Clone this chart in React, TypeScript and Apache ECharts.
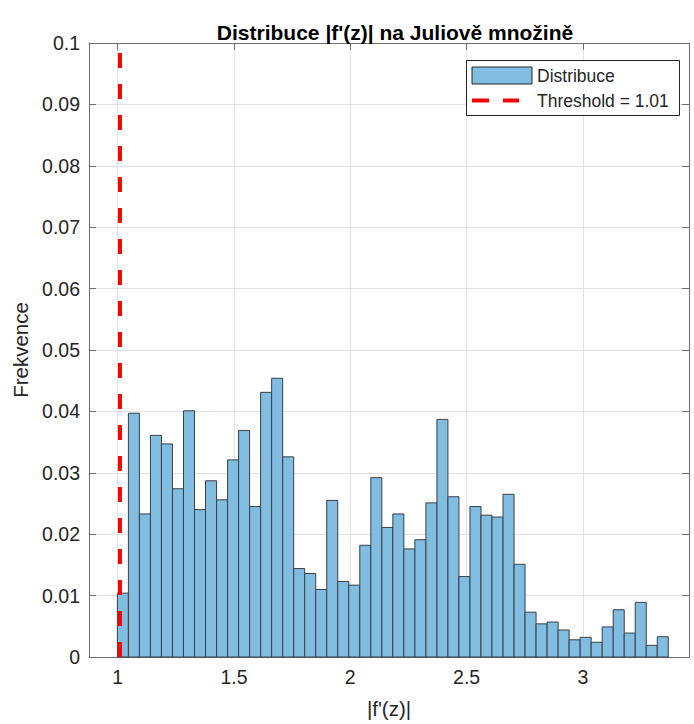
import React, { useEffect, useRef } from "react";
import * as echarts from "echarts";

const TITLE = "Distribuce |f'(z)| na Juliově množině";
const X_LABEL = "|f'(z)|";
const Y_LABEL = "Frekvence";
const LEGEND_BARS = "Distribuce";
const THRESHOLD = 1.01;
const LEGEND_LINE = "Threshold = 1.01";

const X_MIN = 0.877;
const X_MAX = 3.456;
const X_TICKS = [1, 1.5, 2, 2.5, 3];
const Y_MIN = 0;
const Y_MAX = 0.1;
const Y_STEP = 0.01;

const BIN_START = 0.999;
const BIN_WIDTH = 0.04736;
const FREQUENCIES = [
  0.0104, 0.0397, 0.0233, 0.0361, 0.0347, 0.0274, 0.0401, 0.024, 0.0287, 0.0256,
  0.0321, 0.0369, 0.0245, 0.0431, 0.0454, 0.0326, 0.0144, 0.0136, 0.011, 0.0255,
  0.0123, 0.0117, 0.0182, 0.0292, 0.0211, 0.0233, 0.0176, 0.0191, 0.0251, 0.0387,
  0.0261, 0.0131, 0.0245, 0.0231, 0.0228, 0.0265, 0.0151, 0.0073, 0.0054, 0.0057,
  0.0044, 0.0028, 0.0032, 0.0024, 0.0049, 0.0077, 0.0039, 0.0089, 0.0019, 0.0033,
];

const FONT = "'Liberation Sans', Arial, Helvetica, sans-serif";
const BAR_FILL = "#80bde0";
const BAR_EDGE = "#3a3f44";
const AXIS_COLOR = "#6f6f6f";
const TEXT_COLOR = "#262626";
const GRID_COLOR = "#e2e2e2";

export default function App() {
  const ref = useRef<HTMLDivElement>(null);

  useEffect(() => {
    document.body.style.margin = "0";
    const chart = echarts.init(ref.current!, null, { renderer: "svg" });

    const histData = FREQUENCIES.map((v, i) => [
      BIN_START + i * BIN_WIDTH,
      BIN_START + (i + 1) * BIN_WIDTH,
      v,
    ]);

    const fmtY = (v: number) => String(+v.toFixed(2));

    const option: any = {
      animation: false,
      backgroundColor: "#ffffff",
      title: {
        text: TITLE,
        left: 390,
        top: 17,
        textAlign: "center",
        textStyle: {
          fontFamily: FONT,
          fontSize: 21,
          fontWeight: "bold",
          color: "#000000",
        },
      },
      grid: { left: 89, right: 5, top: 43, bottom: 63, containLabel: false },
      xAxis: [
        {
          type: "value",
          position: "bottom",
          min: X_MIN,
          max: X_MAX,
          name: X_LABEL,
          nameLocation: "middle",
          nameGap: 41,
          nameTextStyle: { fontFamily: FONT, fontSize: 20.5, color: TEXT_COLOR },
          axisLine: { show: true, onZero: false, lineStyle: { color: AXIS_COLOR, width: 1 } },
          axisTick: {
            show: true,
            inside: true,
            length: 7,
            customValues: X_TICKS,
            lineStyle: { color: AXIS_COLOR },
          },
          axisLabel: {
            show: true,
            customValues: X_TICKS,
            margin: 10,
            fontFamily: FONT,
            fontSize: 19.5,
            color: TEXT_COLOR,
            formatter: (v: number) => String(v),
          },
          splitLine: { show: true, lineStyle: { color: GRID_COLOR, width: 1 } },
        },
        {
          type: "value",
          position: "top",
          min: X_MIN,
          max: X_MAX,
          axisLine: { show: true, onZero: false, lineStyle: { color: AXIS_COLOR, width: 1 } },
          axisTick: {
            show: true,
            inside: true,
            length: 7,
            customValues: X_TICKS,
            lineStyle: { color: AXIS_COLOR },
          },
          axisLabel: { show: false },
          splitLine: { show: false },
        },
      ],
      yAxis: [
        {
          type: "value",
          position: "left",
          min: Y_MIN,
          max: Y_MAX,
          interval: Y_STEP,
          name: Y_LABEL,
          nameLocation: "middle",
          nameGap: 56,
          nameTextStyle: { fontFamily: FONT, fontSize: 20.5, color: TEXT_COLOR },
          axisLine: { show: true, lineStyle: { color: AXIS_COLOR, width: 1 } },
          axisTick: { show: true, inside: true, length: 7, lineStyle: { color: AXIS_COLOR } },
          axisLabel: {
            margin: 9,
            fontFamily: FONT,
            fontSize: 19.5,
            color: TEXT_COLOR,
            formatter: fmtY,
          },
          splitLine: { show: true, lineStyle: { color: GRID_COLOR, width: 1 } },
        },
        {
          type: "value",
          position: "right",
          min: Y_MIN,
          max: Y_MAX,
          interval: Y_STEP,
          axisLine: { show: true, lineStyle: { color: AXIS_COLOR, width: 1 } },
          axisTick: { show: true, inside: true, length: 7, lineStyle: { color: AXIS_COLOR } },
          axisLabel: { show: false },
          splitLine: { show: false },
        },
      ],
      series: [
        {
          name: LEGEND_BARS,
          type: "custom",
          xAxisIndex: 0,
          yAxisIndex: 0,
          data: histData,
          encode: { x: [0, 1], y: 2 },
          z: 2,
          renderItem: (_params: any, api: any) => {
            const x0 = api.value(0);
            const x1 = api.value(1);
            const y = api.value(2);
            const p0 = api.coord([x0, y]);
            const p1 = api.coord([x1, 0]);
            return {
              type: "rect",
              shape: {
                x: p0[0],
                y: p0[1],
                width: p1[0] - p0[0],
                height: p1[1] - p0[1],
              },
              style: { fill: BAR_FILL, stroke: BAR_EDGE, lineWidth: 1 },
            };
          },
        },
        {
          name: LEGEND_LINE,
          type: "line",
          xAxisIndex: 0,
          yAxisIndex: 0,
          data: [
            [THRESHOLD, Y_MIN],
            [THRESHOLD, Y_MAX],
          ],
          symbol: "none",
          z: 5,
          lineStyle: { color: "#ff0000", width: 4, type: [15, 16] },
        },
      ],
      graphic: [
        {
          type: "rect",
          z: 100,
          shape: { x: 466.5, y: 60.5, width: 213, height: 55 },
          style: { fill: "#ffffff", stroke: "#262626", lineWidth: 1 },
        },
        {
          type: "rect",
          z: 101,
          shape: { x: 472, y: 67, width: 60, height: 17 },
          style: { fill: BAR_FILL, stroke: "#262626", lineWidth: 1 },
        },
        {
          type: "line",
          z: 101,
          shape: { x1: 472, y1: 100.5, x2: 519, y2: 100.5 },
          style: { stroke: "#ff0000", lineWidth: 4, lineDash: [17, 14] },
        },
        {
          type: "text",
          z: 101,
          x: 537,
          y: 76,
          style: {
            text: LEGEND_BARS,
            fontFamily: FONT,
            fontSize: 17.5,
            fill: TEXT_COLOR,
            verticalAlign: "middle",
            align: "left",
          },
        },
        {
          type: "text",
          z: 101,
          x: 537,
          y: 100.5,
          style: {
            text: LEGEND_LINE,
            fontFamily: FONT,
            fontSize: 17.5,
            fill: TEXT_COLOR,
            verticalAlign: "middle",
            align: "left",
          },
        },
      ],
    };

    chart.setOption(option);
    return () => chart.dispose();
  }, []);

  return <div ref={ref} style={{ width: 694, height: 724 }} />;
}
